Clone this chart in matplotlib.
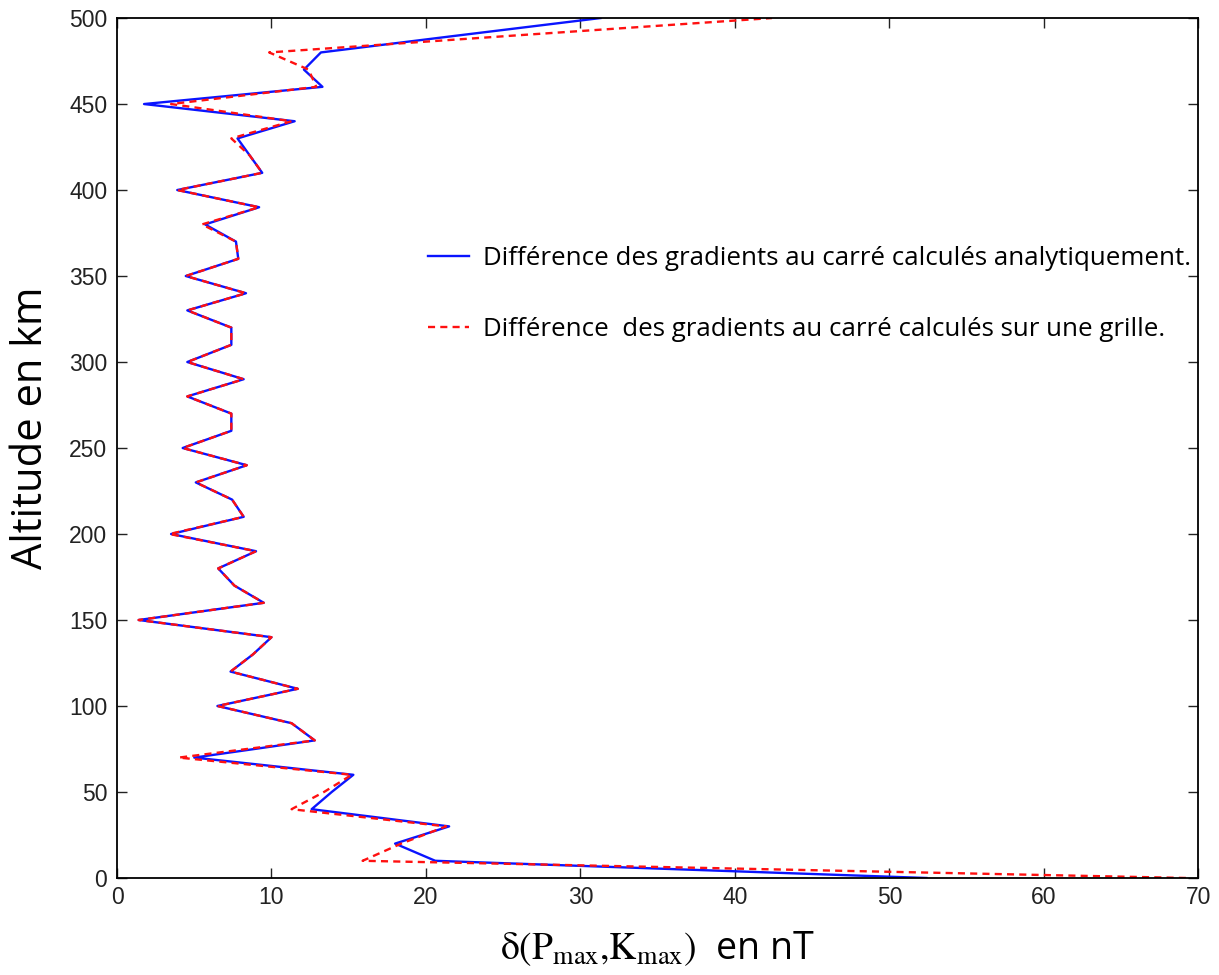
import numpy as np
import matplotlib
matplotlib.use('Agg')
import matplotlib.pyplot as plt

# altitude (km) and the two difference profiles (nT)
altitude = [0, 10, 20, 30, 40, 50, 60, 70, 80, 90,
            100, 110, 120, 130, 140, 150, 160, 170, 180, 190,
            200, 210, 220, 230, 240, 250, 260, 270, 280, 290,
            300, 310, 320, 330, 340, 350, 360, 370, 380, 390,
            400, 410, 420, 430, 440, 450, 460, 470, 480, 490, 500]

diffAnalytic = [52.4, 20.6, 18.0, 21.5, 12.6, 13.9, 15.3, 5.0, 12.8, 11.3,
                6.5, 11.7, 7.35, 8.8, 10.0, 1.4, 9.5, 7.6, 6.55, 9.0,
                3.5, 8.2, 7.45, 5.1, 8.4, 4.25, 7.4, 7.4, 4.55, 8.2,
                4.55, 7.4, 7.4, 4.55, 8.35, 4.45, 7.85, 7.7, 5.7, 9.2,
                3.9, 9.4, 8.6, 7.8, 11.5, 1.75, 13.3, 12.1, 13.2, 22.2, 31.3]

diffGrid = [69.2, 15.9, 18.4, 21.3, 11.3, 13.4, 15.2, 4.0, 12.8, 11.3,
            6.5, 11.7, 7.35, 8.8, 10.0, 1.4, 9.5, 7.6, 6.55, 9.0,
            3.4, 8.2, 7.45, 5.1, 8.4, 4.25, 7.4, 7.4, 4.55, 8.2,
            4.55, 7.4, 7.4, 4.55, 8.35, 4.45, 7.85, 7.7, 5.5, 9.2,
            3.9, 9.4, 8.6, 7.4, 11.3, 3.5, 12.9, 12.4, 9.85, 26.0, 42.4]

labA = 'Différence des gradients au carré calculés analytiquement.'
labG = 'Différence  des gradients au carré calculés sur une grille.'

plt.rcParams['font.family'] = ['Liberation Sans', 'DejaVu Sans']
plt.rcParams['mathtext.fontset'] = 'stix'

fig = plt.figure(figsize=(12.19, 9.75), dpi=100)
ax = fig.add_axes([0.096, 0.0995, 0.887, 0.882])

ax.plot(diffAnalytic, altitude, color='#0a14ff', lw=1.7, label=labA)
ax.plot(diffGrid, altitude, color='#ff1010', lw=1.7, ls=(0, (3.0, 2.2)), label=labG)

ax.set_xlim(0, 70)
ax.set_ylim(0, 500)
ax.set_xticks(np.arange(0, 71, 10))
ax.set_yticks(np.arange(0, 501, 50))
ax.tick_params(direction='in', length=7.5, width=1, top=True, right=True,
               labelsize=16.5, colors='#222222', labelcolor='#222222')
ax.tick_params(axis='x', pad=6)
ax.tick_params(axis='y', pad=7)
for s in ax.spines.values():
    s.set_linewidth(1.3)
    s.set_color('black')

ax.set_ylabel('Altitude en km', fontsize=30, family='Open Sans')
ax.yaxis.set_label_coords(-0.060, 0.524)
ax.set_xlabel(r'$\mathrm{\delta}(\mathrm{P}_{\mathrm{max}}{,}\mathrm{K}_{\mathrm{max}})$  en nT',
              fontsize=27, family='Open Sans', labelpad=14)

ax.legend(loc='upper left', bbox_to_anchor=(0.266, 0.762), frameon=False,
          prop={'family': 'Open Sans', 'size': 18.6},
          handlelength=1.6, handletextpad=0.55, labelspacing=1.8)

fig.savefig('out.png', dpi=100)
